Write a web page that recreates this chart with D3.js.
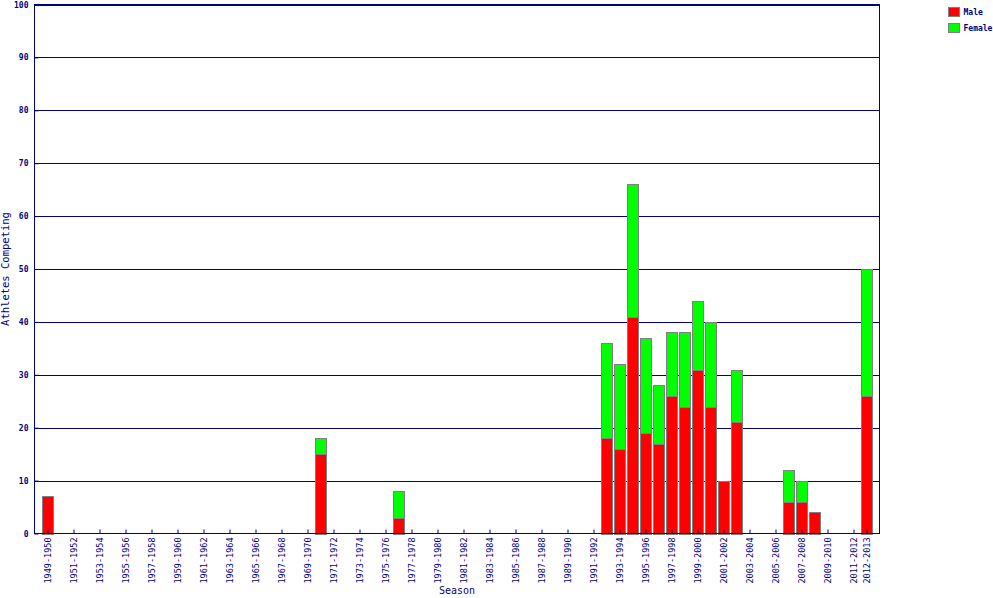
<!DOCTYPE html>
<html>
<head>
<meta charset="utf-8">
<script src="https://cdn.jsdelivr.net/npm/d3@7"></script>
<style>
  html, body { margin: 0; padding: 0; background: #fff; }
  svg { display: block; }
  text { font-family: "DejaVu Sans Mono", "Liberation Mono", monospace; fill: #000080; }
</style>
</head>
<body>
<svg id="chart" width="993" height="598"></svg>
<script>
const seasons = [
  '1949-1950','1950-1951','1951-1952','1952-1953','1953-1954','1954-1955','1955-1956','1956-1957',
  '1957-1958','1958-1959','1959-1960','1960-1961','1961-1962','1962-1963','1963-1964','1964-1965',
  '1965-1966','1966-1967','1967-1968','1968-1969','1969-1970','1970-1971','1971-1972','1972-1973',
  '1973-1974','1974-1975','1975-1976','1976-1977','1977-1978','1978-1979','1979-1980','1980-1981',
  '1981-1982','1982-1983','1983-1984','1984-1985','1985-1986','1986-1987','1987-1988','1988-1989',
  '1989-1990','1990-1991','1991-1992','1992-1993','1993-1994','1994-1995','1995-1996','1996-1997',
  '1997-1998','1998-1999','1999-2000','2000-2001','2001-2002','2002-2003','2003-2004','2004-2005',
  '2005-2006','2006-2007','2007-2008','2008-2009','2009-2010','2010-2011','2011-2012','2012-2013'
];

const male = [
  7, 0, 0, 0, 0, 0, 0, 0,
  0, 0, 0, 0, 0, 0, 0, 0,
  0, 0, 0, 0, 0, 15, 0, 0,
  0, 0, 0, 3, 0, 0, 0, 0,
  0, 0, 0, 0, 0, 0, 0, 0,
  0, 0, 0, 18, 16, 41, 19, 17,
  26, 24, 31, 24, 10, 21, 0, 0,
  0, 6, 6, 4, 0, 0, 0, 26
];

const female = [
  0, 0, 0, 0, 0, 0, 0, 0,
  0, 0, 0, 0, 0, 0, 0, 0,
  0, 0, 0, 0, 0, 3, 0, 0,
  0, 0, 0, 5, 0, 0, 0, 0,
  0, 0, 0, 0, 0, 0, 0, 0,
  0, 0, 0, 18, 16, 25, 18, 11,
  12, 14, 13, 16, 0, 10, 0, 0,
  0, 6, 4, 0, 0, 0, 0, 24
];

// every other season is labelled, plus the last one
const tickSeasons = seasons.filter((s, i) => i % 2 === 0 || i === seasons.length - 1);
const yTicks = [0, 10, 20, 30, 40, 50, 60, 70, 80, 90, 100];

const legendItems = [
  { label: 'Male', color: '#ff0000' },
  { label: 'Female', color: '#00ff00' }
];

const navy = '#000080';
const plotL = 34.5, plotR = 879.5, plotT = 4.5, plotB = 533.5;

const svg = d3.select('#chart');

const x = d3.scalePoint().domain(seasons).range([plotL, plotR]).padding(1);
const y = d3.scaleLinear().domain([0, 100]).range([plotB, plotT]);

// gridlines
svg.append('g')
  .selectAll('line')
  .data(yTicks.filter(v => v > 0))
  .join('line')
  .attr('x1', plotL).attr('x2', plotR)
  .attr('y1', d => Math.round(y(d)) + 0.5).attr('y2', d => Math.round(y(d)) + 0.5)
  .attr('stroke', navy).attr('stroke-width', 1);

// bars (male bottom, female stacked on top)
const rows = seasons.map((s, i) => ({ season: s, male: male[i], female: female[i] }));
const stack = d3.stack().keys(['male', 'female'])(rows);
const colors = { male: '#ff0000', female: '#00ff00' };
const barW = 11;

stack.forEach(layer => {
  svg.append('g')
    .selectAll('rect')
    .data(layer.filter(d => d.data.male + d.data.female > 0))
    .join('rect')
    .attr('x', d => Math.round(x(d.data.season) - barW / 2) + 0.5)
    .attr('y', d => Math.round(y(d[1])) + 0.5)
    .attr('width', barW)
    .attr('height', d => Math.round(y(d[0])) - Math.round(y(d[1])))
    .attr('fill', colors[layer.key])
    .attr('stroke', '#808080')
    .attr('stroke-width', 1);
});

// frame
svg.append('rect')
  .attr('x', plotL).attr('y', plotT)
  .attr('width', plotR - plotL).attr('height', plotB - plotT)
  .attr('fill', 'none').attr('stroke', navy).attr('stroke-width', 1);

// y axis
const yAxis = d3.axisLeft(y).tickValues(yTicks).tickSize(-4).tickPadding(6).tickFormat(d3.format('d'));
const yG = svg.append('g').attr('transform', `translate(${plotL},0)`).call(yAxis);
yG.select('.domain').remove();
yG.selectAll('.tick line').attr('stroke', navy);
yG.selectAll('.tick text')
  .attr('fill', navy)
  .style('font-family', '"DejaVu Sans Mono", monospace')
  .style('font-size', '8px')
  .style('font-weight', 'bold');

// x axis
const xAxis = d3.axisBottom(x).tickValues(tickSeasons).tickSize(-4).tickPadding(0);
const xG = svg.append('g').attr('transform', `translate(0,${plotB})`).call(xAxis);
xG.select('.domain').remove();
xG.selectAll('.tick line').attr('stroke', navy);
xG.selectAll('.tick text')
  .attr('fill', navy)
  .attr('transform', 'rotate(-90)')
  .attr('text-anchor', 'end')
  .attr('x', -4)
  .attr('y', 0)
  .attr('dy', '0.32em')
  .style('font-family', '"DejaVu Sans Mono", monospace')
  .style('font-size', '8.5px');

// axis titles
svg.append('text')
  .attr('x', (plotL + plotR) / 2)
  .attr('y', 594)
  .attr('text-anchor', 'middle')
  .style('font-size', '10px')
  .text('Season');

svg.append('text')
  .attr('transform', `translate(9,${(plotT + plotB) / 2}) rotate(-90)`)
  .attr('text-anchor', 'middle')
  .style('font-size', '10.5px')
  .text('Athletes Competing');

// legend
const lg = svg.append('g').selectAll('g')
  .data(legendItems)
  .join('g')
  .attr('transform', (d, i) => `translate(948.5,${7.5 + i * 16})`);
lg.append('rect')
  .attr('width', 11).attr('height', 9)
  .attr('fill', d => d.color)
  .attr('stroke', '#808080');
lg.append('text')
  .attr('x', 15).attr('y', 7.5)
  .style('font-size', '8px')
  .style('font-weight', 'bold')
  .text(d => d.label);
</script>
</body>
</html>
